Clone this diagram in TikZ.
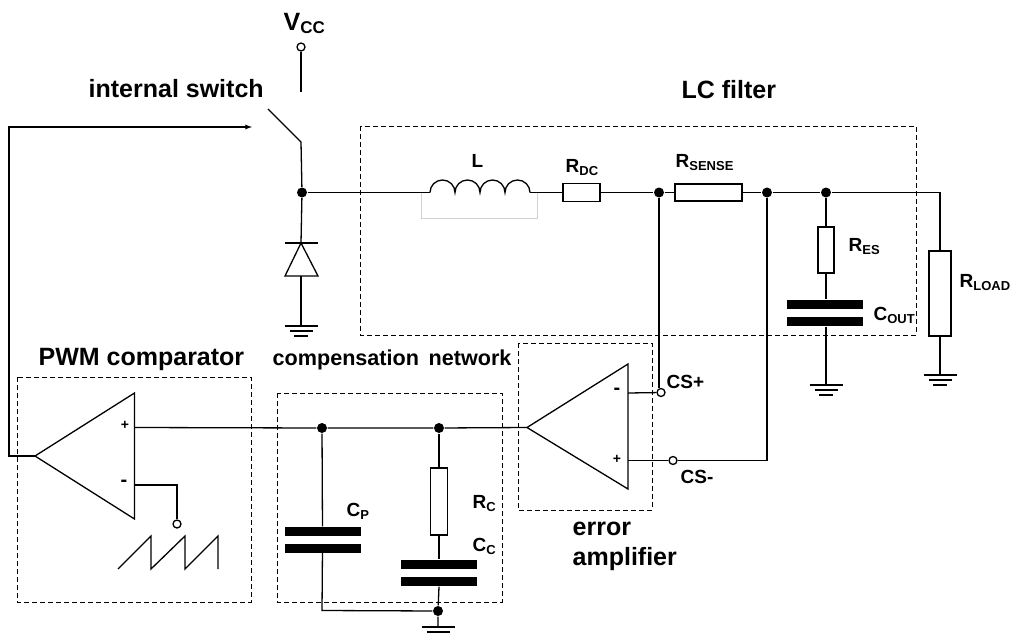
\documentclass[tikz,border=0pt]{standalone}
\usepackage{fontspec}
\setmainfont{Liberation Sans}
\newcommand{\lowtxt}[1]{\raisebox{-3.5pt}{\fontsize{13}{13}\selectfont #1}}
\newcommand{\gnd}[1]{\draw[shift={(#1)}] (-16.5,0) -- (16.5,0) (-11.5,5) -- (11.5,5) (-7,10) -- (7,10);}

\begin{document}
\begin{tikzpicture}[x=1pt,y=-1pt,line width=1.3pt,
		res/.style={draw,inner sep=0pt,fill=white},
		plate/.style={fill=black,inner sep=0pt,minimum width=76pt,minimum height=9pt},
		dot/.style={circle,fill=black,inner sep=0pt,minimum size=10pt},
		term/.style={circle,draw,fill=white,inner sep=0pt,minimum size=8pt},
		box/.style={dashed,dash pattern=on 5pt off 3pt,line width=1pt},
		title/.style={anchor=base west,inner sep=0pt,font=\fontsize{25}{27}\selectfont\bfseries},
		lab/.style={anchor=base west,inner sep=0pt,font=\fontsize{19}{21}\selectfont\bfseries},
		sign/.style={inner sep=0pt,font=\fontsize{14}{14}\selectfont\bfseries},
		minus/.style={inner sep=0pt,font=\fontsize{20}{20}\selectfont\bfseries}]
	\useasboundingbox (0,0) rectangle (1014,632);
	% dashed blocks
	\draw[box] (360,126) rectangle (916,335);
	\draw[box] (518,343) rectangle (652,510);
	\draw[box] (277,393) rectangle (502,602);
	\draw[box] (17,377) rectangle (251,602);
	% supply, switch and diode
	\node[term] (vcc) at (301,47) {};
	\coordinate (swin) at (301,92);
	\coordinate (swarm) at (268,109);
	\coordinate (swout) at (301,142);
	\node[dot] (sw) at (302,192.5) {};
	\coordinate (dtop) at (301,243);
	\coordinate (dl) at (285,276);
	\coordinate (dr) at (318,276);
	\coordinate (dbot) at (301,276);
	\coordinate (g1) at (301,326);
	\draw (vcc) -- (swin);
	\draw (swarm) -- (swout) -- (sw);
	\draw (sw) -- (dtop);
	\draw (285,243) -- (318,243);
	\draw (dtop) -- (dl) -- (dr) -- cycle;
	\draw (dbot) -- (g1);
	\gnd{g1}
	% main line
	\coordinate (lin) at (430,192.5);
	\coordinate (lout) at (530,192.5);
	\node[res,minimum width=37pt,minimum height=18pt] (rdc) at (581.5,192.5) {};
	\node[dot] (j1) at (659,192.5) {};
	\node[res,minimum width=67pt,minimum height=17pt] (rsense) at (708.5,192.5) {};
	\node[dot] (j2) at (767,192.5) {};
	\node[dot] (j3) at (826,192.5) {};
	\coordinate (rcorner) at (940,192.5);
	\node[res,minimum width=22pt,minimum height=85pt] (rload) at (940,293.5) {};
	\coordinate (g2) at (940,375);
	\draw[gray!35,line width=0.7pt] (421,192.5) -- (421,218) -- (537,218) -- (537,192.5);
	\draw (sw) -- (lin);
	\draw (lin) arc[start angle=180,end angle=0,radius=12.5pt] arc[start angle=180,end angle=0,radius=12.5pt] arc[start angle=180,end angle=0,radius=12.5pt] arc[start angle=180,end angle=0,radius=12.5pt];
	\draw (lout) -- (rdc) -- (j1) -- (rsense) -- (j2) -- (j3) -- (rcorner) -- (rload) -- (g2);
	\gnd{g2}
	% output capacitor
	\node[res,minimum width=16pt,minimum height=46pt] (res) at (826,250) {};
	\node[plate] (cout1) at (825,304.5) {};
	\node[plate] (cout2) at (825,321.5) {};
	\coordinate (g3) at (826,385);
	\draw (j3) -- (res);
	\draw (res) -- (cout1.north -| res);
	\draw (cout2.south -| res) -- (g3);
	\gnd{g3}
	% error amplifier
	\coordinate (eaout) at (527,427.5);
	\coordinate (eatop) at (628,364);
	\coordinate (eabot) at (628,489);
	\coordinate (eaminus) at (628,393);
	\coordinate (eaplus) at (628,460.5);
	\node[term] (csp) at (661,392.5) {};
	\node[term] (csm) at (673,460.5) {};
	\coordinate (csmc) at (767,460.5);
	\draw (eaout) -- (eatop) -- (eabot) -- cycle;
	\draw (eaminus) -- (csp);
	\draw (eaplus) -- (csm) -- (csmc) -- (j2);
	\draw (j1) -- (j1 |- csp.north);
	\node[minus] (mns) at (617,391) {-};
	\node[sign] (pls) at (617,459) {+};
	% compensation network
	\node[dot] (ja) at (322,428) {};
	\node[dot] (jb) at (439,428) {};
	\node[res,minimum width=17pt,minimum height=67pt] (rc) at (439,501.5) {};
	\node[plate] (cc1) at (439,564.5) {};
	\node[plate] (cc2) at (439,581.5) {};
	\node[plate] (cp1) at (322.5,531.5) {};
	\node[plate] (cp2) at (322.5,548) {};
	\node[dot] (jg) at (438,611) {};
	\coordinate (cpc) at (322,610.5);
	\coordinate (g4) at (438,627);
	\draw (jb) -- (rc);
	\draw (rc) -- (cc1.north -| rc);
	\draw (cc2.south -| rc) -- (jg) -- (g4);
	\draw (ja) -- (cp1);
	\draw (cp2) -- (cpc) -- (jg);
	\gnd{g4}
	% PWM comparator
	\coordinate (cmpout) at (35,456);
	\coordinate (cmptop) at (134.5,393);
	\coordinate (cmpbot) at (134.5,519);
	\coordinate (cmpplus) at (134.5,427.5);
	\coordinate (cmpminus) at (134.5,485);
	\coordinate (minc) at (177,485);
	\node[term] (ramp) at (177,524) {};
	\coordinate (fbl) at (9,456);
	\coordinate (fbt) at (9,127);
	\coordinate (fbend) at (252,127);
	\draw (cmpout) -- (cmptop) -- (cmpbot) -- cycle;
	\draw (cmpplus) -- (ja) -- (jb) -- (eaout);
	\draw (cmpminus) -- (minc) -- (ramp);
	\draw[-latex] (cmpout) -- (fbl) -- (fbt) -- (fbend);
	\draw (118,569) -- (151,536) -- (151,569) -- (185,536) -- (185,569) -- (218,536) -- (218,569);
	\node[minus] (mns2) at (124,483) {-};
	\node[sign] (pls2) at (125,425) {+};
	% labels
	\node[title] (tvcc) at (283,30) {V\lowtxt{\fontsize{17}{17}\selectfont CC}};
	\node[title] (tsw) at (88,97) {internal switch};
	\node[title] (tlc) at (681,98) {LC filter};
	\node[title] (tpwm) at (38,365) {PWM comparator};
	\node[title,font=\fontsize{21.6}{24}\selectfont\bfseries] (tcomp) at (272,365) {compensation\, network};
	\node[title] (terr) at (572,535) {error};
	\node[title] (tamp) at (572,565) {amplifier};
	\node[lab] (tl) at (471,167) {L};
	\node[lab] (trdc) at (565,172) {R\lowtxt{DC}};
	\node[lab] (trs) at (675,167) {R\lowtxt{SENSE}};
	\node[lab] (tres) at (848,251) {R\lowtxt{ES}};
	\node[lab] (trl) at (959,287) {R\lowtxt{LOAD}};
	\node[lab] (tco) at (873,320) {C\lowtxt{OUT}};
	\node[lab] (tcsp) at (666,388) {CS+};
	\node[lab] (tcsm) at (680,483) {CS-};
	\node[lab] (trc) at (472,508) {R\lowtxt{C}};
	\node[lab] (tcc) at (472,551) {C\lowtxt{C}};
	\node[lab] (tcp) at (346,516) {C\lowtxt{P}};
\end{tikzpicture}
\end{document}
